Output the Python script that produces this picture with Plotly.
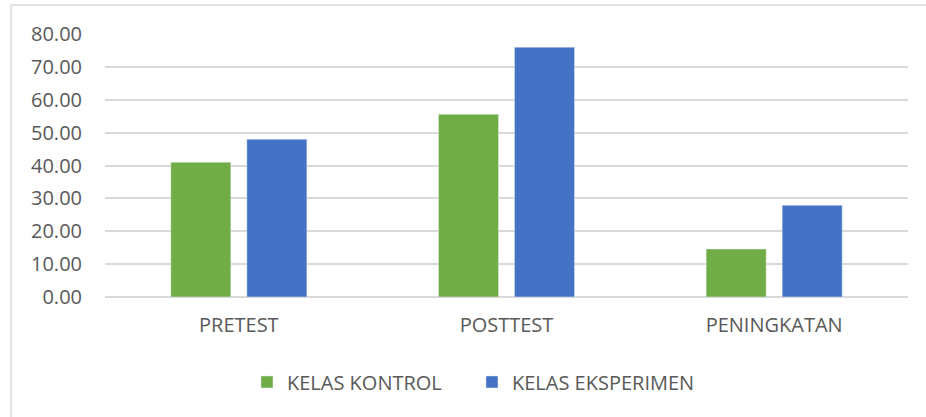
import plotly.graph_objects as go

categories = ["PRETEST", "POSTTEST", "PENINGKATAN"]
kontrol = [41.0, 55.6, 14.6]
eksperimen = [48.0, 76.0, 27.9]
series_names = ["KELAS KONTROL", "KELAS EKSPERIMEN"]
y_ticks = [0, 10, 20, 30, 40, 50, 60, 70, 80]

FONT = "Open Sans, sans-serif"
TXT = "#595959"
GRID = "#d9d9d9"
FS = 20

fig = go.Figure()
fig.add_trace(go.Bar(x=categories, y=kontrol, name=series_names[0],
                     marker=dict(color="#70ad47")))
fig.add_trace(go.Bar(x=categories, y=eksperimen, name=series_names[1],
                     marker=dict(color="#4472c4")))

fig.update_layout(
    width=926, height=417,
    margin=dict(l=105, r=18, t=34, b=120),
    paper_bgcolor="white", plot_bgcolor="white",
    barmode="group", bargap=0.432, bargroupgap=0.21,
    font=dict(family=FONT, size=FS, color=TXT),
    showlegend=True,
    legend=dict(orientation="h", x=0.457, xanchor="center", y=-0.323, yanchor="middle",
                font=dict(family=FONT, size=FS, color=TXT), itemwidth=30,
                entrywidth=180, traceorder="normal"),
    shapes=[dict(type="rect", xref="paper", yref="paper",
                 x0=-0.117, x1=2, y0=-0.6, y1=1.11,
                 line=dict(color=GRID, width=1.5), fillcolor="rgba(0,0,0,0)", layer="below")],
)
fig.update_yaxes(range=[0, 80], tickvals=y_ticks, tickformat=".2f",
                 showgrid=True, gridcolor=GRID, gridwidth=1.5,
                 zeroline=True, zerolinecolor=GRID, zerolinewidth=1.5,
                 showline=False, ticks="", ticklabelstandoff=22,
                 tickfont=dict(family=FONT, size=FS, color=TXT))
fig.update_xaxes(showgrid=False, showline=False, ticks="", ticklabelstandoff=14,
                 tickfont=dict(family=FONT, size=FS, color=TXT))

fig.write_html("out.html", config={"displayModeBar": False},
               post_script="document.body.style.margin='0px';")
